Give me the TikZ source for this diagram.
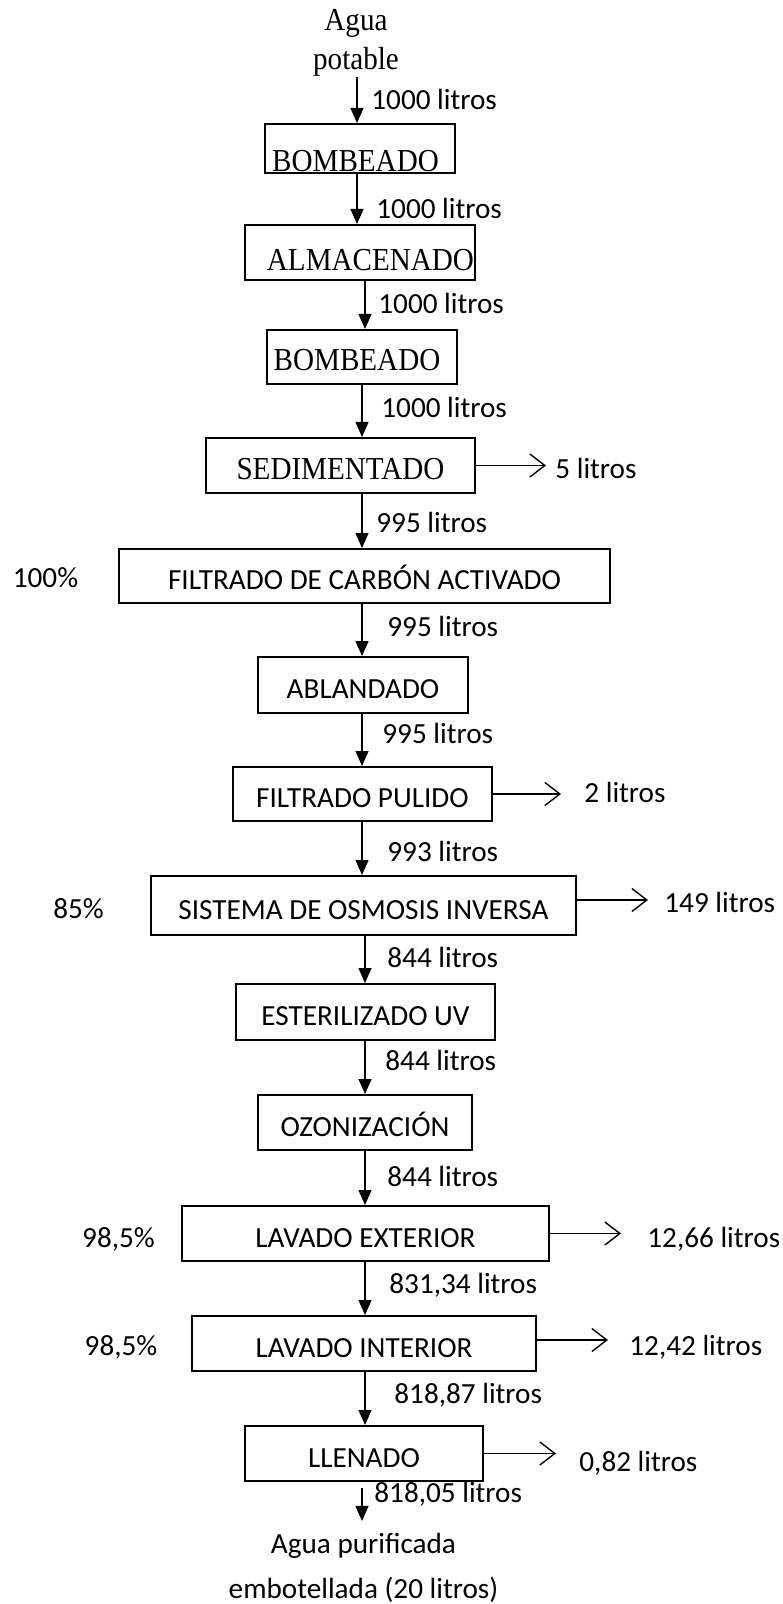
\documentclass[tikz,border=0pt]{standalone}
\usepackage{fontspec}
\setmainfont{Carlito}
\newfontfamily\tnr[FakeStretch=0.91]{Liberation Serif}
\usetikzlibrary{arrows.meta}

\begin{document}
\begin{tikzpicture}[x=0.5pt,y=-0.5pt,
    flow/.style={draw,line width=0.65pt,-{Triangle[length=7.5pt,width=6.5pt]}},
    loss/.style={draw,line width=0.7pt,-{Straight Barb[length=7.5pt,width=11.5pt,line width=0.7pt]}}]

  \useasboundingbox (0,0) rectangle (782,1604);

  % ejes de las flechas
  \coordinate (c1) at (357,0);
  \coordinate (c2) at (362,0);
  \coordinate (c3) at (365,0);

  \node[font=\tnr\fontsize{16}{19.5}\selectfont,align=center,inner sep=0pt] (src) at (356,43) {Agua\\potable};
  \node[font=\fontsize{14.6}{22.5}\selectfont,align=center,inner sep=0pt] (prod) at (363.5,1568) {Agua purificada\\embotellada (20 litros)};

  \begin{scope}[every node/.style={draw,line width=1pt,inner sep=0pt,text depth=0pt,
      font=\fontsize{14.6}{17.5}\selectfont,text height=13.6pt}]
    \begin{scope}[every node/.append style={font=\tnr\fontsize{16}{19}\selectfont,text height=14pt}]
      \node[minimum width=95pt,minimum height=24.5pt,text height=23pt] (bomb1) at (360,148.5) {BOMBEADO\hspace*{4.5pt}};
      \node[minimum width=115pt,minimum height=27.5pt,text height=18pt] (alm) at (360,252.5) {\hspace*{10.5pt}ALMACENADO};
      \node[minimum width=95pt,minimum height=27pt,text height=13.5pt] (bomb2) at (362,357) {BOMBEADO\hspace*{5pt}};
      \node[minimum width=134.5pt,minimum height=27.5pt] (sed) at (340.5,465.5) {SEDIMENTADO};
    \end{scope}
    \node[minimum width=245.5pt,minimum height=27pt] (fca) at (364.5,576) {FILTRADO DE CARBÓN ACTIVADO};
    \node[minimum width=105pt,minimum height=28pt] (abl) at (363,685) {ABLANDADO};
    \node[minimum width=129.5pt,minimum height=27pt] (fp) at (362.5,794) {FILTRADO PULIDO};
    \node[minimum width=212.5pt,minimum height=29.5pt] (soi) at (363.5,905.5) {SISTEMA DE OSMOSIS INVERSA};
    \node[minimum width=129.5pt,minimum height=28pt] (est) at (365.5,1012) {ESTERILIZADO UV};
    \node[minimum width=107pt,minimum height=27.5pt] (ozo) at (365,1122.5) {OZONIZACIÓN};
    \node[minimum width=183.5pt,minimum height=27.5pt] (lext) at (365.5,1233.5) {LAVADO EXTERIOR};
    \node[minimum width=172pt,minimum height=27.5pt] (lint) at (364,1343.5) {LAVADO INTERIOR};
    \node[minimum width=119pt,minimum height=27.5pt] (llen) at (364,1453.5) {LLENADO};
  \end{scope}

  % caudales
  \begin{scope}[every node/.style={anchor=west,inner sep=0pt,font=\fontsize{14.6}{17.5}\selectfont}]
    \node (q0) at (371,99) {1000 litros};
    \node (q1) at (376,208) {1000 litros};
    \node (q2) at (378,303) {1000 litros};
    \node (q3) at (381,407) {1000 litros};
    \node (q4) at (376,522) {995 litros};
    \node (q5) at (387,626) {995 litros};
    \node (q6) at (382,733) {995 litros};
    \node (q7) at (387,851) {993 litros};
    \node (q8) at (387,957) {844 litros};
    \node (q9) at (385,1060) {844 litros};
    \node (q10) at (387,1176) {844 litros};
    \node (q11) at (389,1285) {831,34 litros};
    \node (q12) at (394,1395) {818,87 litros};
    \node (q13) at (374,1494) {818,05 litros};

    \node (l1) at (555,468) {5 litros};
    \node (l2) at (584,792) {2 litros};
    \node (l3) at (664,902) {149 litros};
    \node (l4) at (647,1239) {12,66 litros};
    \node (l5) at (629,1347) {12,42 litros};
    \node (l6) at (579,1463) {0,82 litros};
  \end{scope}

  \begin{scope}[every node/.style={inner sep=0pt,font=\fontsize{14.6}{17.5}\selectfont}]
    \node (p1) at (45.5,578) {100\%};
    \node (p2) at (78.5,909) {85\%};
    \node (p3) at (118.5,1239) {98,5\%};
    \node (p4) at (121,1347) {98,5\%};
  \end{scope}

  \draw[flow] (src.south -| c1) -- (bomb1.north -| c1);
  \draw[flow] (bomb1.south -| c1) -- (alm.north -| c1);
  \draw[flow] (alm.south -| c3) -- (bomb2.north -| c3);
  \draw[flow] (bomb2.south -| c2) -- (sed.north -| c2);
  \draw[flow] (sed.south -| c2) -- (fca.north -| c2);
  \draw[flow] (fca.south -| c2) -- (abl.north -| c2);
  \draw[flow] (abl.south -| c2) -- (fp.north -| c2);
  \draw[flow] (fp.south -| c2) -- (soi.north -| c2);
  \draw[flow] (soi.south -| c3) -- (est.north -| c3);
  \draw[flow] (est.south -| c3) -- (ozo.north -| c3);
  \draw[flow] (ozo.south -| c3) -- (lext.north -| c3);
  \draw[flow] (lext.south -| c3) -- (lint.north -| c3);
  \draw[flow] (lint.south -| c3) -- (llen.north -| c3);
  \draw[flow] ([yshift=-3pt]llen.south -| c2) -- ([yshift=6pt]prod.north -| c2);

  \draw[loss] (sed.east) -- ++(70,0);
  \draw[loss] (fp.east) -- ++(68,0);
  \draw[loss] ([yshift=2.75pt]soi.east) -- ++(71,0);
  \draw[loss] (lext.east) -- ++(71,0);
  \draw[loss] ([yshift=1.75pt]lint.east) -- ++(71,0);
  \draw[loss] (llen.east) -- ++(72,0);

\end{tikzpicture}
\end{document}
